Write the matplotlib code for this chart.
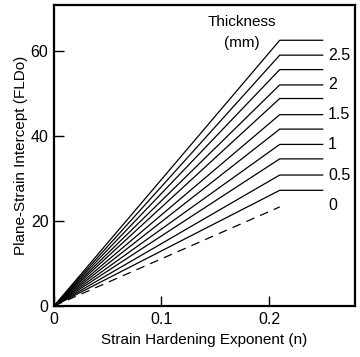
import numpy as np
import matplotlib
matplotlib.use("Agg")
import matplotlib.pyplot as plt

plt.rcParams['font.family'] = ['Liberation Sans', 'DejaVu Sans']

# plane-strain intercept reached at n = 0.21 for each sheet thickness
thickness = [0, 0.25, 0.5, 0.75, 1.0, 1.25, 1.5, 1.75, 2.0, 2.25, 2.5, 2.75]
fld_end = [23.3, 27.2, 30.8, 34.6, 38.0, 41.6, 45.0, 48.8, 52.0, 55.6, 59.0, 62.5]
n_knee = 0.21
n_end = 0.25
labelled = [0, 0.5, 1, 1.5, 2, 2.5]
label_text = ['0', '0.5', '1', '1.5', '2', '2.5']

fig = plt.figure(figsize=(3.6, 3.57), dpi=100)
ax = fig.add_axes([0.15, 0.143, 0.836, 0.843])

for t, f in zip(thickness, fld_end):
    if t == 0:
        ax.plot([0, n_knee], [0, f], color='black', lw=0.9, ls=(0, (7, 5)))
    else:
        ax.plot([0, n_knee, n_end], [0, f, f], color='black', lw=0.9)

# thickness labels (0 sits with the dashed line)
for t, s in zip(labelled, label_text):
    y = fld_end[thickness.index(t)]
    if t == 0:
        y = fld_end[0] + 0.3
    ax.text(0.255, y, s, fontsize=11.5, va='center', ha='left')

ax.text(0.175, 66.8, 'Thickness', fontsize=11, ha='center', va='center')
ax.text(0.175, 61.9, '(mm)', fontsize=11, ha='center', va='center')

ax.set_xlim(0, 0.28)
ax.set_ylim(0, 70.8)
ax.set_xticks([0, 0.1, 0.2])
ax.set_xticklabels(['0', '0.1', '0.2'])
ax.set_yticks([0, 20, 40, 60])
ax.tick_params(direction='in', length=7, width=1.0, labelsize=11.5, pad=4)
for sp in ax.spines.values():
    sp.set_linewidth(1.6)

ax.set_xlabel('Strain Hardening Exponent (n)', fontsize=11, labelpad=5)
ax.set_ylabel('Plane-Strain Intercept (FLDo)', fontsize=11, labelpad=2)

fig.savefig('out.png', dpi=100)
